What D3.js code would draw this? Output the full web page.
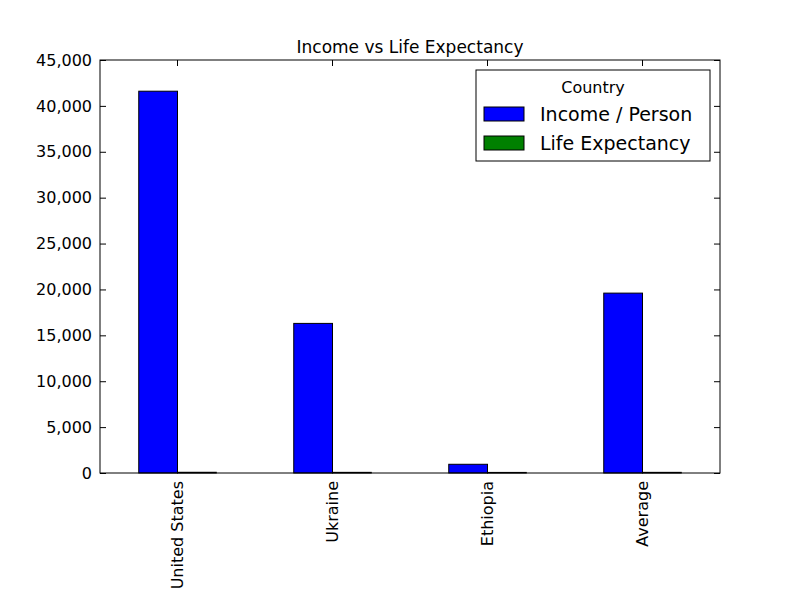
<!DOCTYPE html>
<html><head><meta charset="utf-8">
<script src="https://cdn.jsdelivr.net/npm/d3@7"></script>
<style>body{margin:0;background:#fff}text{font-family:"DejaVu Sans",sans-serif}</style>
</head><body>
<svg id="chart" width="800" height="600"></svg>
<script>
var countries = ['United States', 'Ukraine', 'Ethiopia', 'Average'];
var income = [41600, 16300, 950, 19600];
var lifeExp = [79, 71, 63, 71];
var seriesNames = ['Income / Person', 'Life Expectancy'];
var colors = ['#0000ff', '#008000'];
var yTicks = [0, 5000, 10000, 15000, 20000, 25000, 30000, 35000, 40000, 45000];

var svg = d3.select('#chart');
var plotL = 100, plotR = 720, plotT = 60, plotB = 473;

var x = d3.scaleBand().domain(countries).range([plotL, plotR]);
var y = d3.scaleLinear().domain([0, 45000]).range([plotB, plotT]);
var bw = x.bandwidth() * 0.25;

var series = [income, lifeExp];
series.forEach(function (vals, s) {
	svg.selectAll('.bar' + s).data(vals).enter().append('rect')
		.attr('x', function (d, i) { return x(countries[i]) + x.bandwidth() / 2 - bw + s * bw; })
		.attr('y', function (d) { return y(d); })
		.attr('width', bw)
		.attr('height', function (d) { return plotB - y(d); })
		.attr('fill', colors[s])
		.attr('stroke', '#000').attr('stroke-width', 1);
});

// ticks inside, on all sides
var yAxisL = d3.axisLeft(y).tickValues(yTicks).tickSizeInner(-6).tickSizeOuter(0).tickPadding(8);
var yAxisR = d3.axisRight(y).tickValues(yTicks).tickSizeInner(-6).tickSizeOuter(0).tickFormat('');
var gl = svg.append('g').attr('transform', 'translate(' + plotL + ',0)').call(yAxisL);
svg.append('g').attr('transform', 'translate(' + plotR + ',0)').call(yAxisR);
gl.selectAll('text').attr('font-size', 16).attr('fill', '#000');

var xb = svg.append('g').attr('transform', 'translate(0,' + plotB + ')')
	.call(d3.axisBottom(x).tickSizeInner(-6).tickSizeOuter(0).tickPadding(8));
xb.selectAll('text').attr('font-size', 16).attr('fill', '#000')
	.attr('transform', 'rotate(-90)').attr('text-anchor', 'end')
	.attr('x', -8).attr('y', 0).attr('dy', '0.35em');
svg.append('g').attr('transform', 'translate(0,' + plotT + ')')
	.call(d3.axisTop(x).tickSizeInner(-6).tickSizeOuter(0).tickFormat(''));
svg.selectAll('.domain').remove();
svg.append('rect').attr('x', plotL).attr('y', plotT).attr('width', plotR - plotL).attr('height', plotB - plotT)
	.attr('fill', 'none').attr('stroke', '#000');

svg.append('text').attr('x', (plotL + plotR) / 2).attr('y', plotT - 7).attr('text-anchor', 'middle')
	.attr('font-size', 17).text('Income vs Life Expectancy');

// legend
var lg = svg.append('g').attr('transform', 'translate(476,70)');
lg.append('rect').attr('width', 234).attr('height', 91).attr('fill', '#fff').attr('stroke', '#000');
lg.append('text').attr('x', 117).attr('y', 23).attr('text-anchor', 'middle').attr('font-size', 16).text('Country');
seriesNames.forEach(function (n, i) {
	lg.append('rect').attr('x', 8).attr('y', 37 + i * 29).attr('width', 40).attr('height', 14)
		.attr('fill', colors[i]).attr('stroke', '#000');
	lg.append('text').attr('x', 64).attr('y', 44 + i * 29).attr('dy', '0.35em').attr('font-size', 19).text(n);
});
</script>
</body></html>
